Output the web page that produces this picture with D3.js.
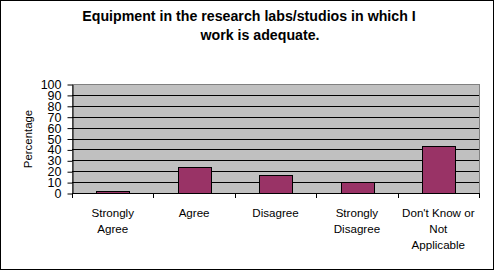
<!DOCTYPE html>
<html lang="en">
<head>
  <meta charset="utf-8">
  <title>Equipment chart</title>
  <style>
    body { margin: 0; background: #fff; }
    text { font-family: Arial, "Liberation Sans", sans-serif; fill: #000; }
  </style>
</head>
<body>
<svg width="494" height="270"></svg>
<script src="https://d3js.org/d3.v7.min.js"></script>
<script>
  var categories = [["Strongly", "Agree"], ["Agree"], ["Disagree"], ["Strongly", "Disagree"], ["Don't Know or", "Not", "Applicable"]];
  var values = [2, 24, 16.5, 10, 43];
  var yTicks = [0, 10, 20, 30, 40, 50, 60, 70, 80, 90, 100];
  var titleLines = ["Equipment in the research labs/studios in which I", "work is adequate."];
  var yTitle = "Percentage";

  var svg = d3.select("svg"),
      plot = {left: 72, top: 84, right: 479, bottom: 194};

  // outer frame
  svg.append("rect")
    .attr("x", 0.5).attr("y", 0.5)
    .attr("width", 493).attr("height", 269)
    .attr("fill", "#fff").attr("stroke", "#000");

  var keys = d3.range(values.length);
  var x = d3.scaleBand().domain(keys).range([plot.left, plot.right]).paddingInner(0.6).paddingOuter(0.3);
  var y = d3.scaleLinear().domain([0, 100]).range([plot.bottom - 0.5, plot.top + 0.5]);

  // plot background
  svg.append("rect")
    .attr("x", plot.left + 0.5).attr("y", plot.top + 0.5)
    .attr("width", plot.right - plot.left).attr("height", plot.bottom - plot.top - 1)
    .attr("fill", "#c0c0c0").attr("stroke", "#808080");

  // gridlines
  svg.append("g").selectAll("line")
    .data(yTicks.filter(function(t) { return t > 0 && t < 100; }))
    .enter().append("line")
    .attr("x1", plot.left).attr("x2", plot.right)
    .attr("y1", function(d) { return Math.round(y(d) - 0.5) + 0.5; })
    .attr("y2", function(d) { return Math.round(y(d) - 0.5) + 0.5; })
    .attr("stroke", "#000");

  // bars
  svg.append("g").selectAll("rect")
    .data(values)
    .enter().append("rect")
    .attr("x", function(d, i) { return Math.round(x(i)) + 0.5; })
    .attr("y", function(d) { return Math.round(y(d) - 0.5) + 0.5; })
    .attr("width", Math.round(x.bandwidth()))
    .attr("height", function(d) { return Math.round(y(0) - 0.5) - Math.round(y(d) - 0.5); })
    .attr("fill", "#993366").attr("stroke", "#000");

  // y axis
  var yAxis = svg.append("g")
    .attr("transform", "translate(" + (plot.left + 0.5) + ",0)")
    .call(d3.axisLeft(y).tickValues(yTicks).tickSize(5).tickPadding(6).tickSizeOuter(0));
  yAxis.select(".domain").attr("stroke", "#000");
  yAxis.selectAll(".tick line").attr("stroke", "#000");
  yAxis.selectAll("text")
    .style("font-size", "12.5px").attr("fill", "#000");

  // x axis: ticks at category boundaries
  var bounds = keys.map(function(i) { return x(i) - x.step() * x.paddingInner() / 2; });
  bounds[0] = plot.left;
  bounds.push(plot.right);
  var xg = svg.append("g");
  xg.append("line")
    .attr("x1", plot.left).attr("x2", plot.right + 1)
    .attr("y1", plot.bottom - 0.5).attr("y2", plot.bottom - 0.5)
    .attr("stroke", "#000");
  xg.selectAll(".xt").data(bounds).enter().append("line")
    .attr("x1", function(d) { return Math.round(d) + 0.5; })
    .attr("x2", function(d) { return Math.round(d) + 0.5; })
    .attr("y1", plot.bottom - 0.5).attr("y2", plot.bottom + 4)
    .attr("stroke", "#000");

  var labels = xg.selectAll(".lab").data(categories).enter().append("text")
    .attr("text-anchor", "middle")
    .style("font-size", "11.6px")
    .attr("transform", function(d, i) { return "translate(" + (x(i) + x.bandwidth() / 2) + ",217)"; });
  labels.selectAll("tspan").data(function(d) { return d; }).enter().append("tspan")
    .attr("x", 0).attr("y", function(d, j) { return j * 16; })
    .text(function(d) { return d; });

  // y title
  svg.append("text")
    .attr("transform", "translate(32,139) rotate(-90)")
    .attr("text-anchor", "middle")
    .style("font-size", "11.4px")
    .text(yTitle);

  // chart title
  svg.append("g").selectAll("text").data(titleLines).enter().append("text")
    .attr("x", function(d, i) { return i === 0 ? 249 : 260; })
    .attr("y", function(d, i) { return 21 + i * 19; })
    .attr("text-anchor", "middle")
    .style("font-size", "14.2px").style("font-weight", "bold")
    .text(function(d) { return d; });
</script>
</body>
</html>
